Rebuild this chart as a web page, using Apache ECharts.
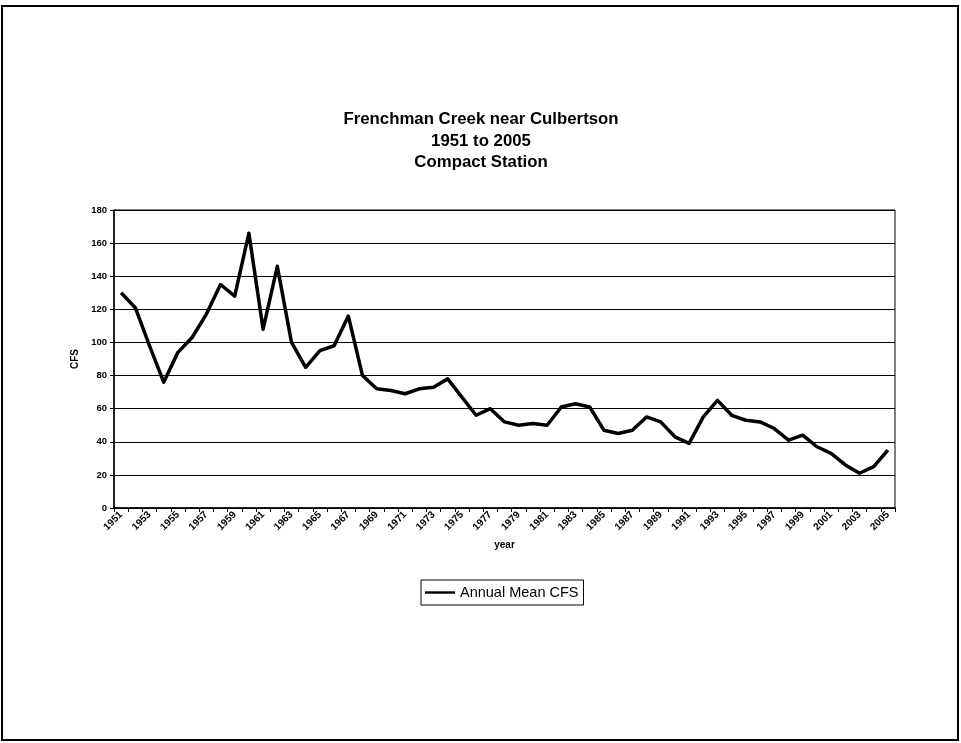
<!DOCTYPE html>
<html>
<head>
<meta charset="utf-8">
<style>
  html, body { margin: 0; padding: 0; background: #fff; }
  #chart { width: 961px; height: 743px; }
</style>
<script src="https://cdn.jsdelivr.net/npm/echarts@6/dist/echarts.min.js"></script>
</head>
<body>
<div id="chart"></div>
<script>
// Water years shown on the category axis
const years = [];
for (let y = 1951; y <= 2005; y++) years.push(String(y));

// Annual mean discharge (cubic feet per second), one value per year
const annualMeanCFS = [
  130, 121, 98, 76, 94, 103, 117, 135, 128, 166,
  108, 146, 100, 85, 95, 98, 116, 80, 72, 71,
  69, 72, 73, 78, 67, 56, 60, 52, 50, 51,
  50, 61, 63, 61, 47, 45, 47, 55, 52, 43,
  39, 55, 65, 56, 53, 52, 48, 41, 44, 37,
  33, 26, 21, 25, 35
];

const yTicks = { min: 0, max: 180, interval: 20 };
const titleLines = ['Frenchman Creek near Culbertson', '1951 to 2005', 'Compact Station'];

const chart = echarts.init(document.getElementById('chart'), null, { renderer: 'canvas' });

const font = 'Liberation Sans, Arial, Helvetica, sans-serif';

chart.setOption({
  backgroundColor: '#ffffff',
  animation: false,
  title: {
    text: titleLines.join('\n'),
    left: 476,
    textAlign: 'center',
    top: 104,
    textStyle: {
      fontFamily: font,
      fontSize: 16.8,
      fontWeight: 'bold',
      color: '#000',
      lineHeight: 21.5
    }
  },
  legend: {
    data: ['Annual Mean CFS'],
    left: 421,
    top: 580,
    orient: 'horizontal',
    padding: [5, 5, 5, 4],
    borderColor: '#000',
    borderWidth: 1,
    itemWidth: 30,
    itemHeight: 12,
    itemGap: 4,
    icon: 'path://M0,4.8 L30,4.8 L30,7.2 L0,7.2 Z',
    textStyle: { fontFamily: font, fontSize: 14.5, color: '#000' }
  },
  grid: {
    left: 114,
    right: 66,
    top: 210,
    bottom: 235,
    show: true,
    borderColor: '#000',
    borderWidth: 1
  },
  xAxis: {
    type: 'category',
    data: years,
    boundaryGap: true,
    name: 'year',
    nameLocation: 'middle',
    nameGap: 32,
    nameTextStyle: { fontFamily: font, fontSize: 10, fontWeight: 'bold', color: '#000' },
    axisLine: { lineStyle: { color: '#000', width: 1.5 } },
    axisTick: { show: true, interval: 0, length: 4, lineStyle: { color: '#000' } },
    axisLabel: {
      interval: 1,
      rotate: 45,
      fontFamily: font,
      fontSize: 10,
      fontWeight: 'bold',
      color: '#000',
      margin: 5
    },
    splitLine: { show: false }
  },
  yAxis: {
    type: 'value',
    min: yTicks.min,
    max: yTicks.max,
    interval: yTicks.interval,
    name: 'CFS',
    nameLocation: 'middle',
    nameGap: 34,
    nameTextStyle: { fontFamily: font, fontSize: 10, fontWeight: 'bold', color: '#000' },
    axisLine: { show: true, lineStyle: { color: '#000', width: 1.5 } },
    axisTick: { show: true, length: 4, lineStyle: { color: '#000' } },
    axisLabel: { fontFamily: font, fontSize: 9.5, fontWeight: 'bold', color: '#000', margin: 7 },
    splitLine: { show: true, lineStyle: { color: '#000', width: 1.2 } }
  },
  series: [{
    name: 'Annual Mean CFS',
    type: 'line',
    data: annualMeanCFS,
    showSymbol: false,
    symbol: 'none',
    lineStyle: { color: '#000', width: 3.5, join: 'round' },
    itemStyle: { color: '#000' }
  }],
  graphic: [{
    type: 'rect',
    shape: { x: 2, y: 6, width: 956, height: 734 },
    style: { fill: 'none', stroke: '#000', lineWidth: 2 },
    silent: true
  }]
});
</script>
</body>
</html>
